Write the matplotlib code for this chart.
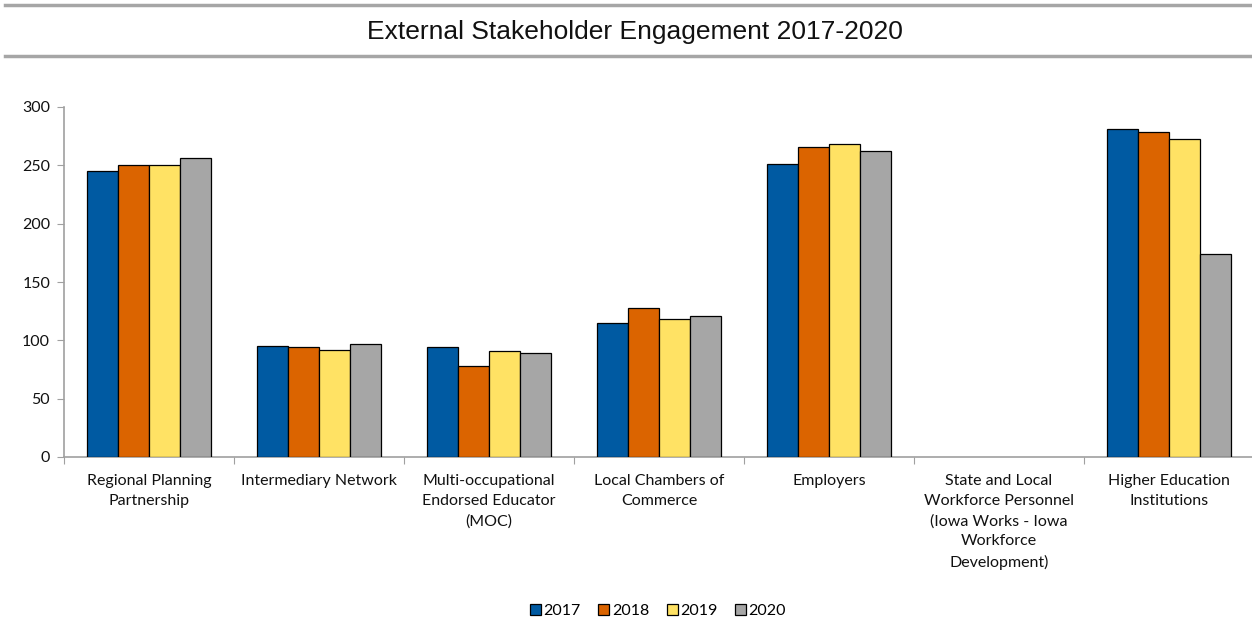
import numpy as np
import matplotlib
matplotlib.use("Agg")
import matplotlib.pyplot as plt
from matplotlib.lines import Line2D

# Data
categories = [
    "Regional Planning\nPartnership",
    "Intermediary Network",
    "Multi-occupational\nEndorsed Educator\n(MOC)",
    "Local Chambers of\nCommerce",
    "Employers",
    "State and Local\nWorkforce Personnel\n(Iowa Works - Iowa\nWorkforce\nDevelopment)",
    "Higher Education\nInstitutions",
]
years = ["2017", "2018", "2019", "2020"]
v2017 = [245, 95, 94, 115, 251, np.nan, 281]
v2018 = [250, 94, 78, 128, 266, np.nan, 279]
v2019 = [250, 92, 91, 118, 268, np.nan, 273]
v2020 = [256, 97, 89, 121, 262, np.nan, 174]
series = [v2017, v2018, v2019, v2020]
colors = ["#005AA2", "#DB6400", "#FFE264", "#A6A6A6"]

plt.rcParams["font.family"] = ["Lato", "DejaVu Sans"]

fig = plt.figure(figsize=(12.52, 6.22), dpi=100)
ax = fig.add_axes([64 / 1252, 1 - 457 / 622, 1190 / 1252, 350 / 622])

# title band
fig.add_artist(Line2D([5 / 1252, 1], [1 - 5 / 622] * 2, color="#A6A6A6", lw=2.5))
fig.add_artist(Line2D([5 / 1252, 1], [1 - 56 / 622] * 2, color="#A6A6A6", lw=2.5))
fig.text(635 / 1252, 1 - 32 / 622, "External Stakeholder Engagement 2017-2020",
         ha="center", va="center", fontsize=19, family="Liberation Sans", color="#111111")

x = np.arange(len(categories))
w = 0.182
for i, (vals, c, yr) in enumerate(zip(series, colors, years)):
    ax.bar(x + (i - 1.5) * w, vals, width=w, color=c, edgecolor="black",
           linewidth=0.9, label=yr, zorder=3)

ax.set_xlim(-0.5, 6.5)
ax.set_ylim(0, 300)
ax.set_yticks(range(0, 301, 50))

# boundary ticks on x axis, labels at centers
ax.set_xticks(np.arange(-0.5, 7, 1))
ax.set_xticklabels([])
ax.set_xticks(x, minor=True)
ax.set_xticklabels(categories, minor=True, fontsize=11.5, linespacing=1.55,
                   color="#111111")
ax.tick_params(axis="x", which="major", length=5, color="#A0A0A0", direction="out")
ax.tick_params(axis="x", which="minor", length=0, pad=12)
ax.tick_params(axis="y", length=5, color="#A0A0A0", labelsize=11.5,
               labelcolor="#111111", pad=5)

for s in ["top", "right"]:
    ax.spines[s].set_visible(False)
for s in ["left", "bottom"]:
    ax.spines[s].set_color("#A0A0A0")
    ax.spines[s].set_linewidth(1.2)

leg = fig.legend(loc="center", bbox_to_anchor=(658 / 1252, 1 - 611 / 622), ncol=4,
                 frameon=False, fontsize=11.5, handlelength=0.7, handleheight=0.7,
                 handletextpad=0.15, columnspacing=1.1)

fig.savefig("out.png", dpi=100)
